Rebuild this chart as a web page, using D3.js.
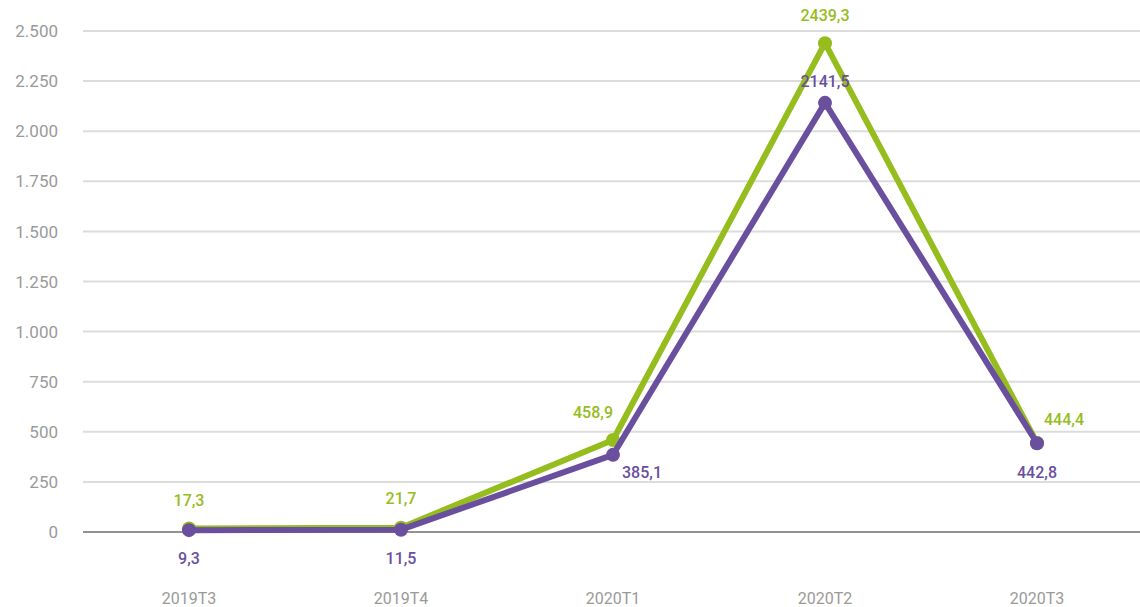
<!DOCTYPE html>
<html><head><meta charset="utf-8">
<script src="https://cdn.jsdelivr.net/npm/d3@7"></script>
<style>
body{margin:0;background:#fff;}
svg{display:block;font-family:"Roboto","DejaVu Sans",sans-serif;}
</style></head><body>
<svg id="c" width="1140" height="607"></svg>
<script>
(function(){
const categories = ["2019T3","2019T4","2020T1","2020T2","2020T3"];
const seriesGreen = [17.3, 21.7, 458.9, 2439.3, 444.4];
const seriesPurple = [9.3, 11.5, 385.1, 2141.5, 442.8];
const yTicks = [0,250,500,750,1000,1250,1500,1750,2000,2250,2500];

// label placement (dx, dy relative to point)
const greenLabelPos = [[0,-28],[0,-29],[-20,-28],[0,-28],[27,-24]];
const purpleLabelPos = [[0,28],[0,29],[29,17],[0,-22],[0,29]];

const svg = d3.select("#c");
const mLeft = 83, mRight = 1143, mTop = 31, mBottom = 532;
const x = d3.scalePoint().domain(categories).range([mLeft, mRight]).padding(0.5);
const y = d3.scaleLinear().domain([0,2500]).range([mBottom, mTop]);
const fmt = v => d3.format(".1f")(v).replace(".", ",");
const fmtTick = v => d3.format(",")(v).replace(/,/g, ".");

svg.append("g").selectAll("line").data(yTicks.filter(d=>d>0)).join("line")
  .attr("x1", mLeft).attr("x2", 1140).attr("y1", d=>y(d)).attr("y2", d=>y(d))
  .attr("stroke", "#dcdcdc").attr("stroke-width", 2);
svg.append("line").attr("x1", mLeft).attr("x2", 1140).attr("y1", y(0)).attr("y2", y(0))
  .attr("stroke", "#6e6e6e").attr("stroke-width", 1.6);

svg.append("g").selectAll("text").data(yTicks).join("text")
  .attr("x", 58).attr("y", d=>y(d)).attr("dy", "0.36em")
  .attr("text-anchor", "end").attr("fill", "#9a9a9a")
  .attr("font-size", 17).text(fmtTick);

svg.append("g").selectAll("text").data(categories).join("text")
  .attr("x", d=>x(d)).attr("y", 598).attr("dy", "0.36em")
  .attr("text-anchor", "middle").attr("fill", "#9a9a9a")
  .attr("font-size", 16).text(d=>d);

function drawSeries(vals, color){
  const pts = categories.map((c,i)=>({c, v: vals[i], i}));
  const line = d3.line().x(d=>x(d.c)).y(d=>y(d.v));
  svg.append("path").datum(pts).attr("d", line).attr("fill","none")
    .attr("stroke", color).attr("stroke-width", 6).attr("stroke-linejoin","round");
  svg.append("g").selectAll("circle").data(pts).join("circle")
    .attr("cx", d=>x(d.c)).attr("cy", d=>y(d.v)).attr("r", 7).attr("fill", color);
  return pts;
}
const gp = drawSeries(seriesGreen, "#95bd1d");
const pp = drawSeries(seriesPurple, "#6a4f9f");

function drawLabels(pts, color, labelPos){
  svg.append("g").selectAll("text").data(pts).join("text")
    .attr("x", d=>x(d.c)+labelPos[d.i][0]).attr("y", d=>y(d.v)+labelPos[d.i][1])
    .attr("dy","0.36em").attr("text-anchor","middle").attr("fill", color)
    .attr("font-size", 16).attr("font-weight", 500).text(d=>fmt(d.v));
}
drawLabels(gp, "#95bd1d", greenLabelPos);
drawLabels(pp, "#6a4f9f", purpleLabelPos);
})();
</script></body></html>
